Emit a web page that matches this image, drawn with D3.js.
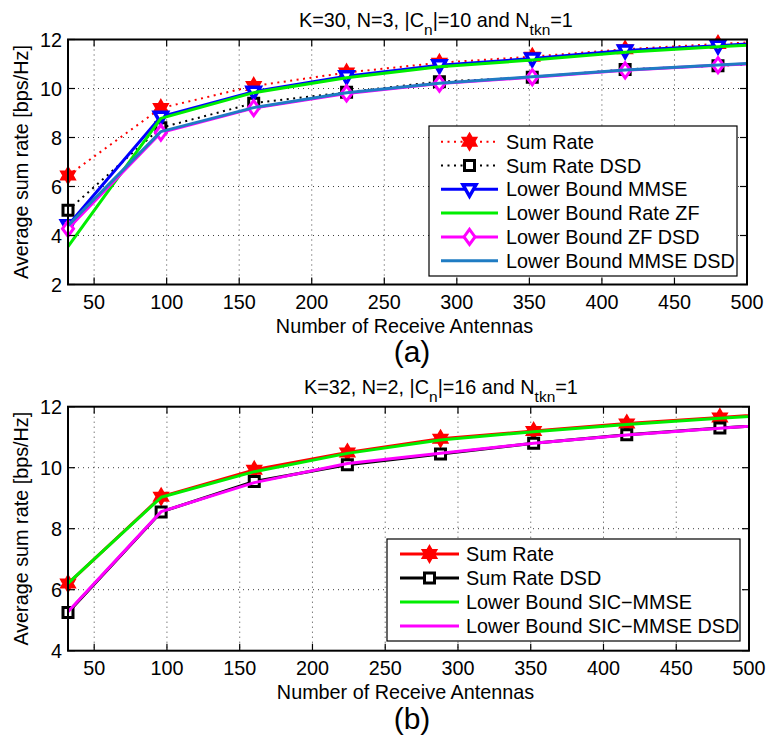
<!DOCTYPE html>
<html>
<head>
<meta charset="utf-8">
<script src="https://cdn.jsdelivr.net/npm/d3@7"></script>
<style>
  html, body { margin: 0; padding: 0; background: #fff; }
  svg text { font-family: "Liberation Sans", Arial, Helvetica, sans-serif; fill: #000; }
</style>
</head>
<body>
<svg id="chart" width="766" height="735"></svg>
<script>
// ---------- data ----------
const antennas = [32, 96, 160, 224, 288, 352, 416, 480, 544];
const xTicks = [50, 100, 150, 200, 250, 300, 350, 400, 450, 500];
const yTicksA = [2, 4, 6, 8, 10, 12];
const yTicksB = [4, 6, 8, 10, 12];

// panel (a)
const sumRateA     = [6.45, 9.2, 10.1, 10.65, 11.05, 11.3, 11.6, 11.82, 12.0];
const sumRateDsdA  = [5.03, 8.4, 9.4, 9.85, 10.28, 10.46, 10.78, 10.93, 11.1];
const lbMmseA      = [4.42, 8.85, 9.87, 10.5, 10.95, 11.22, 11.55, 11.75, 11.95];
const lbZfA        = [3.55, 8.78, 9.83, 10.44, 10.89, 11.16, 11.48, 11.7, 11.9];
const lbZfDsdA     = [4.28, 8.2, 9.2, 9.8, 10.2, 10.46, 10.74, 10.95, 11.12];
const lbMmseDsdA   = [4.4, 8.24, 9.22, 9.83, 10.21, 10.48, 10.76, 10.96, 11.14];
const legendA = ["Sum Rate", "Sum Rate DSD", "Lower Bound MMSE", "Lower Bound Rate ZF", "Lower Bound ZF DSD", "Lower Bound MMSE DSD"];

// panel (b)
const sumRateB     = [6.2, 9.05, 9.93, 10.5, 10.95, 11.2, 11.45, 11.65, 11.85];
const sumRateDsdB  = [5.25, 8.55, 9.55, 10.1, 10.45, 10.8, 11.08, 11.3, 11.5];
const sicMmseB     = [6.21, 9.03, 9.87, 10.47, 10.91, 11.18, 11.42, 11.62, 11.82];
const sicMmseDsdB  = [5.28, 8.56, 9.51, 10.14, 10.47, 10.8, 11.07, 11.29, 11.51];
const legendB = ["Sum Rate", "Sum Rate DSD", "Lower Bound SIC\u2212MMSE", "Lower Bound SIC\u2212MMSE DSD"];

// ---------- marker shapes ----------
function hexagram(r) {
  const pts = [];
  for (let k = 0; k < 12; k++) {
    const a = -Math.PI / 2 + k * Math.PI / 6;
    const rr = k % 2 === 0 ? r : r / Math.sqrt(3);
    pts.push([rr * Math.cos(a), rr * Math.sin(a)]);
  }
  return "M" + pts.map(p => p[0].toFixed(2) + "," + p[1].toFixed(2)).join("L") + "Z";
}
const markerPaths = {
  star: hexagram(8.5),
  square: "M-5,-5L5,-5L5,5L-5,5Z",
  triDown: "M-6.5,-4.5L6.5,-4.5L0,7Z",
  diamond: "M0,-7.5L5.5,0L0,7.5L-5.5,0Z"
};
const markerStyle = {
  star: { fill: null, sw: 1.5 },
  square: { fill: "#fff", sw: 3 },
  triDown: { fill: "#fff", sw: 3.5 },
  diamond: { fill: "#fff", sw: 3 }
};

const svg = d3.select("#chart");
const LB = "#1f7cc3";
const FS = 19.8;

function drawPanel(cfg) {
  const g = svg.append("g");
  const x = d3.scaleLinear().domain([32, 500]).range([cfg.left, cfg.right]);
  const y = d3.scaleLinear().domain(cfg.yDomain).range([cfg.bottom, cfg.top]);
  const clipId = "clip" + cfg.id;
  svg.append("clipPath").attr("id", clipId).append("rect")
    .attr("x", cfg.left).attr("y", cfg.top)
    .attr("width", cfg.right - cfg.left).attr("height", cfg.bottom - cfg.top);

  // grid
  g.append("g").selectAll("line").data(xTicks.filter(t => t < 500)).join("line")
    .attr("x1", d => x(d)).attr("x2", d => x(d))
    .attr("y1", cfg.top).attr("y2", cfg.bottom)
    .attr("stroke", "#000").attr("stroke-width", 1).attr("stroke-dasharray", "1,4").attr("opacity", 0.75);
  g.append("g").selectAll("line").data(cfg.yTicks.filter(t => t !== cfg.yDomain[0] && t !== cfg.yDomain[1])).join("line")
    .attr("x1", cfg.left).attr("x2", cfg.right)
    .attr("y1", d => y(d)).attr("y2", d => y(d))
    .attr("stroke", "#000").attr("stroke-width", 1).attr("stroke-dasharray", "1,4").attr("opacity", 0.75);

  // series
  const line = d3.line().x((d, i) => x(antennas[i])).y(d => y(d));
  cfg.series.forEach(s => {
    const sg = g.append("g");
    sg.append("path").attr("d", line(s.values))
      .attr("clip-path", "url(#" + clipId + ")")
      .attr("fill", "none").attr("stroke", s.color).attr("stroke-width", s.width)
      .attr("stroke-dasharray", s.dash || null).attr("stroke-linejoin", "round");
    if (s.marker) {
      const ms = markerStyle[s.marker];
      sg.selectAll("path.m").data(s.values.map((v, i) => [antennas[i], v]).filter(d => d[0] <= 500))
        .join("path").attr("class", "m")
        .attr("d", markerPaths[s.marker])
        .attr("transform", d => `translate(${x(d[0])},${y(d[1])})`)
        .attr("fill", ms.fill || s.color).attr("stroke", s.color).attr("stroke-width", ms.sw)
        .attr("stroke-linejoin", "miter");
    }
  });

  // axes box + ticks (inward, all sides)
  const tl = 7;
  const ax = g.append("g");
  ax.selectAll("line.xb").data(xTicks).join("line").attr("class", "xb")
    .attr("x1", d => x(d)).attr("x2", d => x(d)).attr("y1", cfg.bottom).attr("y2", cfg.bottom - tl)
    .attr("stroke", "#000").attr("stroke-width", 1.2);
  ax.selectAll("line.xt").data(xTicks).join("line").attr("class", "xt")
    .attr("x1", d => x(d)).attr("x2", d => x(d)).attr("y1", cfg.top).attr("y2", cfg.top + tl)
    .attr("stroke", "#000").attr("stroke-width", 1.2);
  ax.selectAll("line.yl").data(cfg.yTicks).join("line").attr("class", "yl")
    .attr("x1", cfg.left).attr("x2", cfg.left + tl).attr("y1", d => y(d)).attr("y2", d => y(d))
    .attr("stroke", "#000").attr("stroke-width", 1.2);
  ax.selectAll("line.yr").data(cfg.yTicks).join("line").attr("class", "yr")
    .attr("x1", cfg.right).attr("x2", cfg.right - tl).attr("y1", d => y(d)).attr("y2", d => y(d))
    .attr("stroke", "#000").attr("stroke-width", 1.2);
  ax.append("rect").attr("x", cfg.left).attr("y", cfg.top)
    .attr("width", cfg.right - cfg.left).attr("height", cfg.bottom - cfg.top)
    .attr("fill", "none").attr("stroke", "#000").attr("stroke-width", 2);

  // tick labels
  ax.selectAll("text.xl").data(xTicks).join("text").attr("class", "xl")
    .attr("x", d => x(d)).attr("y", cfg.bottom + 24).attr("text-anchor", "middle")
    .attr("font-size", FS).text(d => d);
  ax.selectAll("text.ylab").data(cfg.yTicks).join("text").attr("class", "ylab")
    .attr("x", cfg.left - 6).attr("y", d => y(d) + 7).attr("text-anchor", "end")
    .attr("font-size", FS).text(d => d);

  // axis labels
  g.append("text").attr("x", (cfg.left + cfg.right) / 2 - 3).attr("y", cfg.bottom + 48.5)
    .attr("text-anchor", "middle").attr("font-size", FS).text("Number of Receive Antennas");
  g.append("text").attr("transform", `translate(28,${(cfg.top + cfg.bottom) / 2}) rotate(-90)`)
    .attr("text-anchor", "middle").attr("font-size", FS).text("Average sum rate [bps/Hz]");

  // title with subscripts
  const t = g.append("text").attr("x", cfg.titleX).attr("y", cfg.titleY).attr("font-size", FS);
  let pendingDy = 0;
  cfg.title.forEach(part => {
    if (part.sub) {
      t.append("tspan").attr("dy", 8 + pendingDy).attr("font-size", 15.5).text(part.sub);
      pendingDy = -8;
    } else {
      t.append("tspan").attr("dy", pendingDy).text(part.t);
      pendingDy = 0;
    }
  });

  // panel label
  g.append("text").attr("x", 412).attr("y", cfg.panelY).attr("text-anchor", "middle")
    .attr("font-size", 30).text(cfg.panel);

  // legend
  const L = cfg.legend;
  g.append("rect").attr("x", L.x0).attr("y", L.y0).attr("width", L.x1 - L.x0).attr("height", L.y1 - L.y0)
    .attr("fill", "#fff").attr("stroke", "#000").attr("stroke-width", 1.2);
  cfg.series.forEach((s, i) => {
    const ry = L.rowY0 + i * L.rowStep;
    g.append("line").attr("x1", L.lx0).attr("x2", L.lx1).attr("y1", ry).attr("y2", ry)
      .attr("stroke", s.color).attr("stroke-width", s.width).attr("stroke-dasharray", s.dash || null);
    if (s.marker) {
      const ms = markerStyle[s.marker];
      g.append("path").attr("d", markerPaths[s.marker])
        .attr("transform", `translate(${(L.lx0 + L.lx1) / 2},${ry})`)
        .attr("fill", ms.fill || s.color).attr("stroke", s.color).attr("stroke-width", ms.sw);
    }
    g.append("text").attr("x", L.tx).attr("y", ry + 7).attr("font-size", FS).text(cfg.names[i]);
  });
}

drawPanel({
  id: "a", left: 68, right: 747, top: 39.5, bottom: 284.5,
  yDomain: [2, 12], yTicks: yTicksA,
  titleX: 299, titleY: 27,
  title: [{ t: "K=30, N=3, |C" }, { sub: "n" }, { t: "|=10 and N" }, { sub: "tkn" }, { t: "=1" }],
  panel: "(a)", panelY: 362,
  names: legendA,
  series: [
    { values: sumRateA, color: "#ff0000", width: 2, dash: "2,4.5", marker: "star" },
    { values: sumRateDsdA, color: "#000000", width: 2, dash: "2,4.5", marker: "square" },
    { values: lbMmseA, color: "#0000ff", width: 3, marker: "triDown" },
    { values: lbZfA, color: "#00ee00", width: 3 },
    { values: lbZfDsdA, color: "#ff00ff", width: 3, marker: "diamond" },
    { values: lbMmseDsdA, color: LB, width: 3 }
  ],
  legend: { x0: 429, x1: 737, y0: 126, y1: 276, rowY0: 141.7, rowStep: 23.8, lx0: 441, lx1: 498, tx: 506 }
});

drawPanel({
  id: "b", left: 68, right: 749, top: 406.7, bottom: 650.7,
  yDomain: [4, 12], yTicks: yTicksB,
  titleX: 304, titleY: 394,
  title: [{ t: "K=32, N=2, |C" }, { sub: "n" }, { t: "|=16 and N" }, { sub: "tkn" }, { t: "=1" }],
  panel: "(b)", panelY: 728.5,
  names: legendB,
  series: [
    { values: sumRateB, color: "#ff0000", width: 3, marker: "star" },
    { values: sumRateDsdB, color: "#000000", width: 3, marker: "square" },
    { values: sicMmseB, color: "#00ee00", width: 3 },
    { values: sicMmseDsdB, color: "#ff00ff", width: 3 }
  ],
  legend: { x0: 387, x1: 740, y0: 539, y1: 641, rowY0: 554, rowStep: 24, lx0: 400, lx1: 459, tx: 466 }
});
</script>
</body>
</html>
